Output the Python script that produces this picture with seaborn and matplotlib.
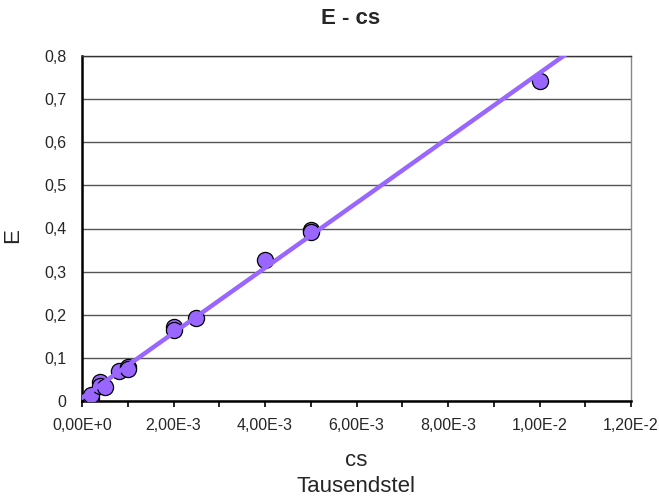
import numpy as np
import pandas as pd
import seaborn as sns
import matplotlib
matplotlib.use("Agg")
import matplotlib.pyplot as plt
from matplotlib.ticker import FuncFormatter, MultipleLocator

# data
cs = [0.0002, 0.0002, 0.0004, 0.0004, 0.0005, 0.0008, 0.001, 0.001,
      0.002, 0.002, 0.0025, 0.004, 0.005, 0.005, 0.01]
E = [0.008, 0.015, 0.043, 0.035, 0.033, 0.070, 0.080, 0.075,
     0.172, 0.165, 0.192, 0.328, 0.396, 0.392, 0.741]

title = "E - cs"
x_label = "cs\nTausendstel"
y_label = "E"

df = pd.DataFrame({"cs": cs, "E": E})

sns.set_theme(style="white")
plt.rcParams["font.family"] = ["Liberation Sans", "DejaVu Sans"]

color = "#9966FF"
fig = plt.figure(figsize=(6.59, 4.99), dpi=100)
ax = fig.add_axes([82 / 659, 98 / 499, 549 / 659, 345 / 499])

ax.set_xlim(0, 0.012)
ax.set_ylim(0, 0.8)

sns.scatterplot(data=df, x="cs", y="E", ax=ax, s=135, color=color,
                edgecolor="black", linewidth=0.9, zorder=3, legend=False)
sns.regplot(data=df, x="cs", y="E", ax=ax, scatter=False, ci=None,
            truncate=False, line_kws={"color": color, "lw": 3.2, "zorder": 4})

ax.set_xlim(0, 0.012)
ax.set_ylim(0, 0.8)

ax.yaxis.set_major_locator(MultipleLocator(0.1))
ax.xaxis.set_major_locator(MultipleLocator(0.002))
ax.xaxis.set_minor_locator(MultipleLocator(0.001))


def xfmt(v, pos):
    if abs(v) < 1e-12:
        return "0,00E+0"
    exp = int(np.floor(np.log10(abs(v)) + 1e-9))
    mant = v / 10 ** exp
    s = f"{mant:.2f}".replace(".", ",")
    es = f"+{exp}" if exp >= 0 else f"{exp}"
    return f"{s}E{es}"


def yfmt(v, pos):
    if abs(v) < 1e-9:
        return "0"
    return f"{v:.1f}".replace(".", ",")


ax.xaxis.set_major_formatter(FuncFormatter(xfmt))
ax.yaxis.set_major_formatter(FuncFormatter(yfmt))

ax.grid(axis="y", color="#555555", lw=1.0, zorder=0)
ax.grid(axis="x", visible=False)
ax.set_axisbelow(True)

for side in ["left", "bottom"]:
    ax.spines[side].set_color("black")
    ax.spines[side].set_linewidth(1.8)
ax.spines["top"].set_color("#333333")
ax.spines["top"].set_linewidth(1.0)
ax.spines["right"].set_color("#888888")
ax.spines["right"].set_linewidth(1.0)

ax.tick_params(axis="x", which="both", direction="out", length=4, width=1.2,
               color="black", bottom=True, labelsize=11.5, pad=8.5)
ax.tick_params(axis="y", which="both", length=0, labelsize=11.5, pad=11)

ax.set_xlabel("")
ax.set_ylabel("")
fig.text(356 / 659, 1 - 461 / 499, "cs", ha="center", va="center", fontsize=16)
fig.text(356 / 659, 1 - 486 / 499, "Tausendstel", ha="center", va="center", fontsize=16)
fig.text(13 / 659, 1 - 236 / 499, y_label, ha="center", va="center", fontsize=16, rotation=90)
fig.text(351 / 659, 1 - 18 / 499, title, ha="center", va="center", fontsize=16, fontweight="bold")

fig.savefig("out.png", dpi=100)
